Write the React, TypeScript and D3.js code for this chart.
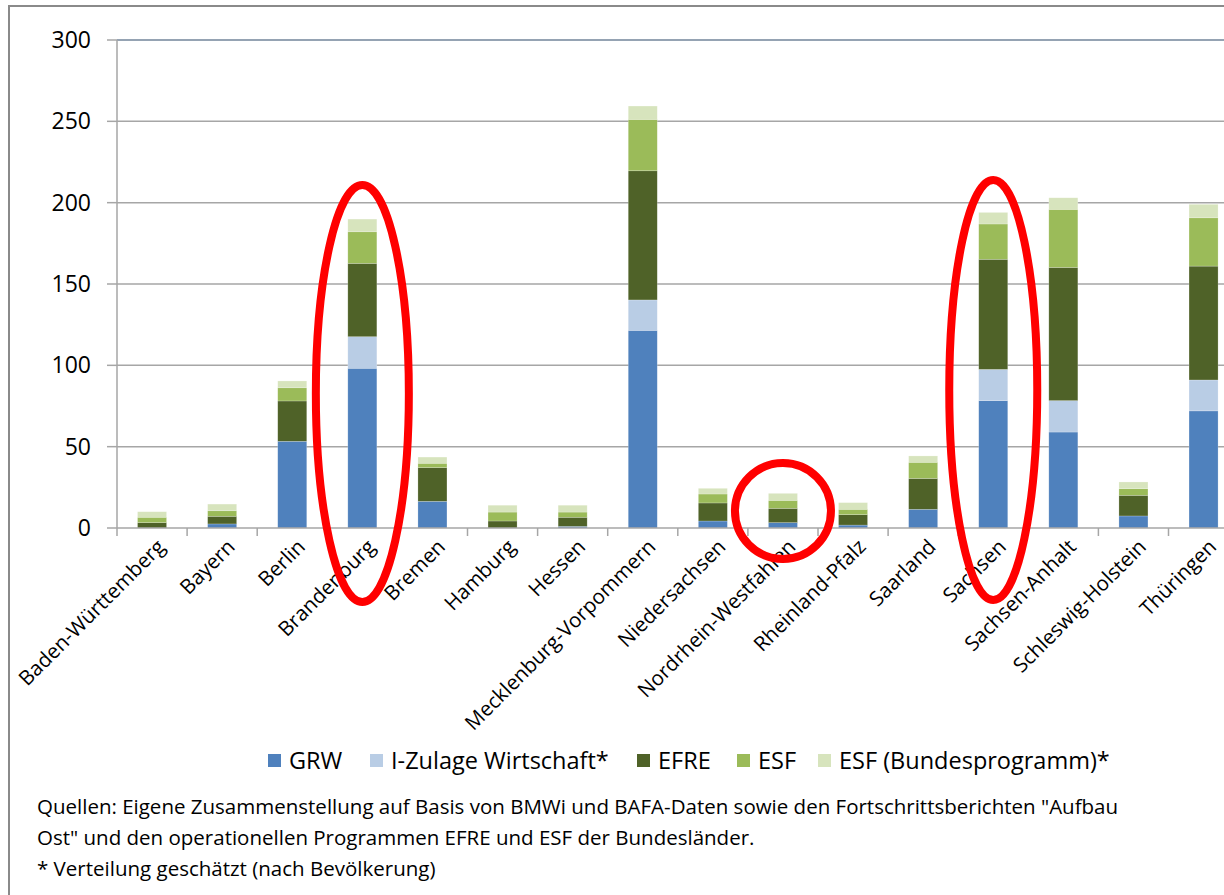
import React from "react";
import * as d3 from "d3";

const categories = [
  "Baden-Württemberg", "Bayern", "Berlin", "Brandenburg", "Bremen", "Hamburg", "Hessen",
  "Mecklenburg-Vorpommern", "Niedersachsen", "Nordrhein-Westfahlen", "Rheinland-Pfalz",
  "Saarland", "Sachsen", "Sachsen-Anhalt", "Schleswig-Holstein", "Thüringen",
];
const grw = [0, 2.5, 53.3, 98.2, 16.4, 0, 1, 121.5, 4.3, 3.3, 1.8, 11.5, 78.3, 59, 7.4, 72];
const iZulage = [0, 0, 0, 19.4, 0, 0, 0, 18.7, 0, 0, 0, 0, 19.2, 19.3, 0, 19];
const efre = [3.3, 4.7, 24.8, 45.1, 20.7, 4.3, 5.6, 79.4, 11.1, 8.8, 6.4, 19, 67.7, 81.9, 12.7, 70];
const esf = [3.3, 3.4, 8.1, 19.4, 2.7, 5.5, 3.2, 31.6, 5.5, 4.9, 3.3, 9.9, 21.7, 35.7, 4.1, 29.7];
const esfBund = [3.4, 4.1, 4.2, 7.8, 3.8, 4.2, 4.2, 8.2, 3.5, 4.3, 4.1, 3.9, 7.1, 7.1, 4.1, 8.3];
const seriesNames = ["GRW", "I-Zulage Wirtschaft*", "EFRE", "ESF", "ESF (Bundesprogramm)*"];
const seriesColors = ["#4F81BD", "#B9CDE5", "#4F6228", "#9BBB59", "#D7E4BD"];
const yTicks = [0, 50, 100, 150, 200, 250, 300];
const highlighted = ["Brandenburg", "Nordrhein-Westfahlen", "Sachsen"];
const footnotes = [
  "Quellen: Eigene Zusammenstellung auf Basis von BMWi und BAFA-Daten sowie den Fortschrittsberichten \"Aufbau",
  "Ost\" und den operationellen Programmen EFRE und ESF der Bundesländer.",
  "* Verteilung geschätzt (nach Bevölkerung)",
];

const FONT = "'Open Sans', 'Noto Sans', sans-serif";

export default function App() {
  const W = 1224, H = 895;
  const left = 117, step = 70.1;
  const x = d3.scaleBand<string>()
    .domain(categories)
    .range([left, left + step * categories.length])
    .paddingInner(0.586)
    .paddingOuter(0.293);
  const y = d3.scaleLinear().domain([0, 300]).range([528, 40]);

  const table = categories.map((c, i) => ({
    cat: c, s0: grw[i], s1: iZulage[i], s2: efre[i], s3: esf[i], s4: esfBund[i],
  }));
  const stack = d3.stack<any>().keys(["s0", "s1", "s2", "s3", "s4"]);
  const layers = stack(table);

  const legendX = [268, 370, 637, 737, 818];

  const ellipseFor = (cat: string) => {
    const cx = (x(cat) as number) + x.bandwidth() / 2;
    if (cat === "Nordrhein-Westfahlen") return { cx, cy: 511, rx: 48, ry: 48 };
    if (cat === "Sachsen") return { cx, cy: 390, rx: 44, ry: 210 };
    return { cx, cy: 393.5, rx: 46.5, ry: 208.5 };
  };

  return (
    <svg width={W} height={H} style={{ position: "absolute", left: 0, top: 0, background: "#fff" }}
      fontFamily={FONT}>
      <rect x={0} y={0} width={W} height={H} fill="#fff" />
      <rect x={9} y={6} width={1250} height={900} fill="none" stroke="#8a8a8a" strokeWidth={2} />

      {/* gridlines */}
      {yTicks.filter(t => t > 0).map(t => (
        <line key={t} x1={left} x2={W} y1={y(t)} y2={y(t)}
          stroke={t === 300 ? "#72849a" : "#a6a6a6"} strokeWidth={1.5} />
      ))}
      {/* y axis */}
      <line x1={left} x2={left} y1={y(300)} y2={y(0)} stroke="#a6a6a6" strokeWidth={1.5} />
      {yTicks.map(t => (
        <g key={t}>
          <line x1={107} x2={left} y1={y(t)} y2={y(t)} stroke="#a6a6a6" strokeWidth={1.5} />
          <text x={91} y={y(t)} dy="0.35em" textAnchor="end" fontSize={23} fill="#000">{t}</text>
        </g>
      ))}

      {/* bars */}
      {layers.map((layer, li) => (
        <g key={li} fill={seriesColors[li]}>
          {layer.map((d, i) => {
            const h = y(d[0]) - y(d[1]);
            if (h <= 0) return null;
            return (
              <rect key={i} x={x(categories[i])} y={y(d[1])} width={x.bandwidth()} height={h}
                stroke="#ffffff" strokeOpacity={0.35} strokeWidth={0.6} />
            );
          })}
        </g>
      ))}

      {/* x axis */}
      <line x1={left} x2={W} y1={y(0)} y2={y(0)} stroke="#a6a6a6" strokeWidth={1.5} />
      {categories.map((c, i) => {
        const xb = left + step * i;
        return <line key={"t" + i} x1={xb} x2={xb} y1={y(0)} y2={y(0) + 8} stroke="#a6a6a6" strokeWidth={1.5} />;
      })}
      {categories.map(c => {
        const cx = (x(c) as number) + x.bandwidth() / 2 + 9;
        const cy = 543;
        return (
          <text key={c} x={cx} y={cy} transform={`rotate(-45 ${cx} ${cy})`} textAnchor="end"
            fontSize={20.5} fill="#000" dy="0.35em">{c}</text>
        );
      })}

      {/* legend */}
      {seriesNames.map((n, i) => (
        <g key={n}>
          <rect x={legendX[i]} y={754} width={13} height={13} fill={seriesColors[i]} />
          <text x={legendX[i] + 21} y={761} dy="0.35em" fontSize={23.5} fill="#000">{n}</text>
        </g>
      ))}

      {/* footnotes */}
      {footnotes.map((f, i) => (
        <text key={i} x={37} y={814 + i * 31} fontSize={20.5} fill="#000">{f}</text>
      ))}

      {/* annotations */}
      {highlighted.map(c => {
        const e = ellipseFor(c);
        return <ellipse key={c} cx={e.cx} cy={e.cy} rx={e.rx} ry={e.ry} fill="none" stroke="#ff0000" strokeWidth={8} />;
      })}
    </svg>
  );
}
